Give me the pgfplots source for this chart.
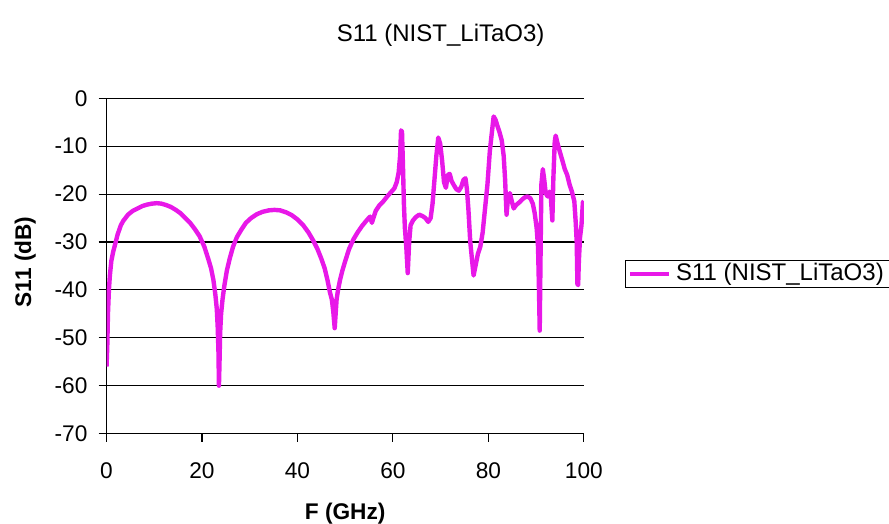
\documentclass[border=0pt]{standalone}
\usepackage{fontspec}
\setmainfont{Liberation Sans}
\usepackage{pgfplots}
\pgfplotsset{compat=1.18}
\definecolor{mag}{RGB}{232,24,232}
\begin{document}
\fontsize{17}{20}\selectfont
\begin{tikzpicture}
\path[use as bounding box] (0,0) rectangle (666.75pt,393pt);
\begin{axis}[
  at={(79.9pt,67.8pt)}, anchor=south west,
  scale only axis, width=358pt, height=251.5pt,
  xmin=0, xmax=100, ymin=-70, ymax=0,
  xtick={0,20,...,100}, ytick={-70,-60,...,0},
  axis x line*=bottom, axis y line*=left,
  axis line style={black, line width=0.8pt, -},
  ymajorgrids, grid style={black, line width=0.8pt},
  tick align=outside, major tick length=6pt,
  tick style={black, line width=0.8pt},
  /pgf/number format/assume math mode=true,
  ticklabel style={font=\fontsize{17}{20}\selectfont},
  xticklabel style={yshift=-10pt},
  yticklabel style={xshift=-2.5pt},
  title={S11 (NIST\_LiTaO3)},
  title style={at={(axis description cs:0.70,1.195)}, anchor=center, yshift=-8pt, font=\fontsize{18}{21}\selectfont},
  xlabel={\bfseries F (GHz)},
  xlabel style={at={(axis description cs:0.5,-0.24)}, anchor=center, font=\fontsize{17}{20}\selectfont},
  ylabel={\bfseries S11 (dB)},
  ylabel style={at={(axis description cs:-0.170,0.512)}, anchor=center, font=\fontsize{17}{20}\selectfont},
  legend style={at={(axis description cs:1.086,0.476)}, anchor=west, draw=black, line width=0.8pt,
    inner xsep=2pt, inner ysep=0pt, font=\fontsize{18}{21}\selectfont,
    nodes={inner xsep=4pt}},
  legend cell align=left,
  legend image code/.code={\draw[mag, line width=3pt] (0pt,0pt) -- (29pt,0pt);},
]
\addplot[mag, line width=3.3pt, line join=round] coordinates {
(0.0,-56) (0.15,-52) (0.3,-45) (0.5,-40) (0.7,-37) (1.0,-34) (1.4,-32) (1.8,-30.5)
(2.3,-28.5) (3.0,-26.5) (3.5,-25.6) (4.5,-24.3) (5.5,-23.5) (6.5,-23) (7.5,-22.5)
(8.5,-22.2) (9.5,-22) (10.5,-21.9) (11.5,-22) (12.5,-22.3) (13.5,-22.7) (14.5,-23.3)
(15.5,-24) (16.5,-25) (17.5,-26) (18.5,-27.3) (19.5,-28.8) (20.5,-31) (21.3,-33.5)
(21.9,-35.5) (22.4,-38) (22.8,-41) (23.1,-44) (23.3,-48) (23.45,-53) (23.55,-60)
(23.65,-56) (23.8,-49) (24.0,-45) (24.3,-42) (24.7,-39) (25.2,-36) (25.8,-33.5)
(26.5,-31) (27.3,-29) (28.2,-27.5) (29.2,-26) (30.3,-25) (31.5,-24.2) (32.7,-23.7)
(34,-23.4) (35.2,-23.3) (36.4,-23.4) (37.6,-23.8) (38.8,-24.4) (40,-25.3) (41.2,-26.5)
(42.3,-28) (43.3,-29.7) (44.2,-31.5) (45.0,-33.5) (45.7,-35.5) (46.3,-38) (46.8,-40.5)
(47.2,-42) (47.5,-44.5) (47.8,-48) (48.0,-45) (48.2,-42) (48.5,-40) (48.9,-38)
(49.4,-36) (50.0,-34) (50.8,-31.5) (51.7,-29.5) (52.6,-28) (53.5,-26.7) (54.4,-25.6)
(55.2,-24.7) (55.6,-26) (55.9,-25) (56.4,-23.5) (57.2,-22.3) (58.0,-21.5) (58.8,-20.5)
(59.6,-19.6) (60.3,-18.8) (60.8,-17.5) (61.2,-15.5) (61.5,-12) (61.7,-6.7) (61.9,-7)
(62.1,-14) (62.3,-22) (62.5,-27) (62.8,-31) (63.1,-36.5) (63.4,-30) (63.7,-26.5)
(64.2,-25.5) (64.8,-24.8) (65.5,-24.3) (66.2,-24.6) (66.8,-25) (67.4,-25.8) (67.9,-25)
(68.3,-22) (68.7,-17) (69.1,-12) (69.5,-8.2) (69.9,-9.5) (70.3,-13) (70.7,-17.5)
(71.1,-18.7) (71.5,-16) (71.9,-15.8) (72.3,-17.3) (72.8,-18.2) (73.3,-19) (73.8,-19.3)
(74.3,-18.5) (74.8,-17) (75.2,-16.7) (75.5,-19) (75.8,-23) (76.2,-30) (76.6,-34)
(76.9,-37) (77.3,-35) (77.8,-32.5) (78.3,-31) (78.8,-28) (79.3,-23) (79.8,-18)
(80.3,-11) (80.8,-6.5) (81.1,-3.8) (81.5,-4.5) (81.9,-5.8) (82.3,-7) (82.8,-8.8)
(83.2,-12) (83.5,-17) (83.8,-24.3) (84.1,-21) (84.5,-19.8) (84.9,-21.5) (85.3,-23)
(85.8,-22.3) (86.4,-21.8) (87.0,-21.2) (87.6,-20.7) (88.2,-20.5) (88.8,-20.9) (89.3,-22)
(89.7,-24) (90.1,-27) (90.4,-31) (90.6,-40) (90.75,-48.5) (90.9,-35) (91.1,-18)
(91.4,-14.8) (91.7,-17) (92.0,-19.8) (92.4,-20.5) (92.8,-19.5) (93.1,-21) (93.4,-25.5)
(93.6,-17) (93.9,-9) (94.1,-7.8) (94.5,-9.5) (95.0,-11.3) (95.5,-13) (96.0,-14.8)
(96.5,-16) (97.0,-18) (97.5,-19.5) (98.0,-21.5) (98.3,-26) (98.5,-30) (98.65,-38.8)
(98.8,-39) (98.95,-34) (99.2,-29) (99.5,-26.5) (99.8,-21.7) (100,-21.5)
};
\addlegendentry{S11 (NIST\_LiTaO3)}
\end{axis}
\end{tikzpicture}
\end{document}
